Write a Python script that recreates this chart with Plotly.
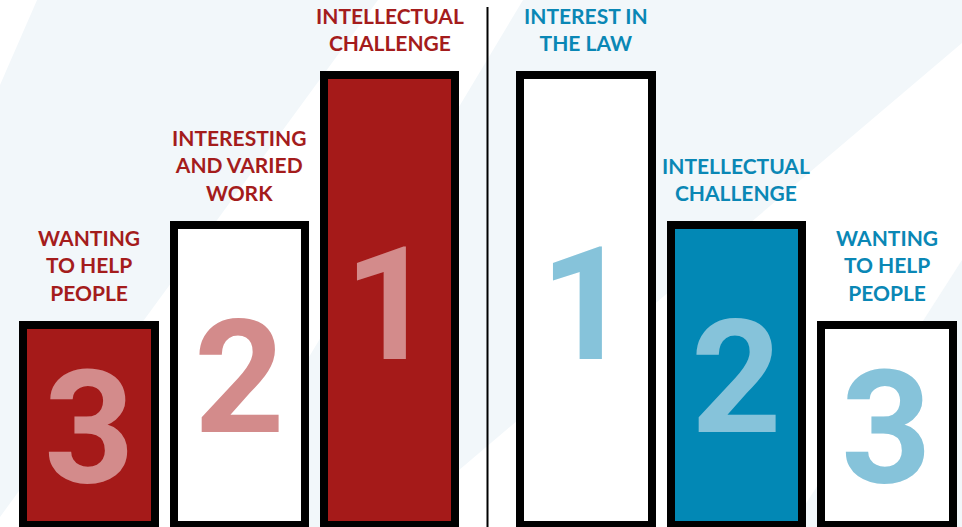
import plotly.graph_objects as go

# ---------------- data ----------------
left_categories = ["Wanting to help people", "Interesting and varied work", "Intellectual challenge"]
left_labels = ["WANTING<br>TO HELP<br>PEOPLE", "INTERESTING<br>AND VARIED<br>WORK", "INTELLECTUAL<br>CHALLENGE"]
left_ranks = [3, 2, 1]

right_categories = ["Interest in the law", "Intellectual challenge", "Wanting to help people"]
right_labels = ["INTEREST IN<br>THE LAW", "INTELLECTUAL<br>CHALLENGE", "WANTING<br>TO HELP<br>PEOPLE"]
right_ranks = [1, 2, 3]

rank_order = [1, 2, 3]
podium_heights = [4.5, 3.0, 2.0]   # podium height for rank 1, 2, 3

# ---------------- style ----------------
RED = "#A51A19"
RED_TEXT = "#A41C1C"
PINK = "#D38B8B"
BLUE = "#0288B5"
BLUE_TEXT = "#0A87B5"
LIGHT_BLUE = "#86C3DA"
BG_LIGHT = "#F2F7FA"
W, H = 962, 527

height_of = dict(zip(rank_order, podium_heights))
number_y = {1: 2.20, 2: 1.47, 3: 0.97}

left_fill = {1: RED, 2: "white", 3: RED}
right_fill = {1: "white", 2: BLUE, 3: "white"}

fig = go.Figure()

fig.add_trace(go.Bar(
    x=left_categories, y=[height_of[r] for r in left_ranks],
    marker=dict(color=[left_fill[r] for r in left_ranks], line=dict(color="black", width=8)),
    width=0.874, xaxis="x", yaxis="y", showlegend=False, hoverinfo="x",
))
fig.add_trace(go.Bar(
    x=right_categories, y=[height_of[r] for r in right_ranks],
    marker=dict(color=[right_fill[r] for r in right_ranks], line=dict(color="black", width=8)),
    width=0.874, xaxis="x2", yaxis="y", showlegend=False, hoverinfo="x",
))

annotations = []
label_font = dict(family="Lato", size=21, weight=700)
num_font = dict(family="Roboto", size=158, weight=700)
for cats, labels, ranks, xref, tcol, ncol in [
    (left_categories, left_labels, left_ranks, "x", RED_TEXT, PINK),
    (right_categories, right_labels, right_ranks, "x2", BLUE_TEXT, LIGHT_BLUE),
]:
    for c, lab, r in zip(cats, labels, ranks):
        annotations.append(dict(
            x=c, y=height_of[r], xref=xref, yref="y", text=lab, showarrow=False,
            yanchor="bottom", xanchor="center", yshift=18, align="center",
            font=dict(color=tcol, **label_font),
        ))
        annotations.append(dict(
            x=c, y=number_y[r], xref=xref, yref="y", text=str(r), showarrow=False,
            yanchor="middle", xanchor="center",
            font=dict(color=ncol, **num_font),
        ))

def poly(pts):
    path = "M " + " L ".join(f"{x / W:.4f},{1 - y / H:.4f}" for x, y in pts) + " Z"
    return dict(type="path", path=path, xref="paper", yref="paper",
                fillcolor=BG_LIGHT, line=dict(width=0), layer="below")

shapes = [
    poly([(37, 0), (378, 0), (0, 517), (0, 85)]),
    poly([(523, 0), (962, 0), (962, 43), (392, 527), (207, 527)]),
    poly([(962, 260), (962, 527), (791, 527)]),
    dict(type="line", xref="paper", yref="paper", x0=487.5 / W, x1=487.5 / W,
         y0=0, y1=1 - 7 / H, line=dict(color="black", width=2)),
]

fig.update_layout(
    width=W, height=H,
    margin=dict(l=0, r=0, t=0, b=0),
    paper_bgcolor="white", plot_bgcolor="rgba(0,0,0,0)",
    xaxis=dict(domain=[0, 0.5], range=[-0.592, 2.607], visible=False, fixedrange=True),
    xaxis2=dict(domain=[0.5, 1], range=[-0.698, 2.500], visible=False, fixedrange=True),
    yaxis=dict(range=[-0.02, 5.25], visible=False, fixedrange=True),
    annotations=annotations, shapes=shapes, bargap=0,
)

fig.write_html("out.html", config={"displayModeBar": False},
               post_script="document.body.style.margin='0';")
